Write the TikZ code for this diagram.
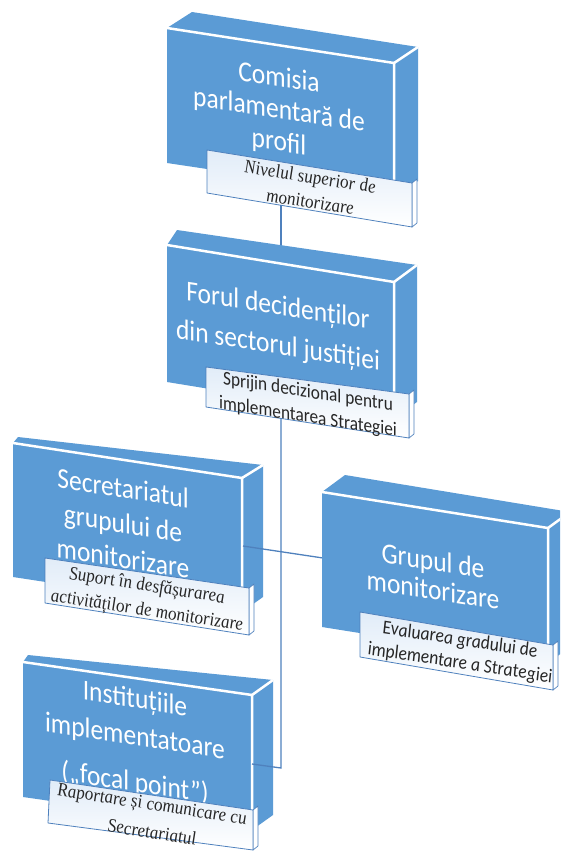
\documentclass[tikz,border=0pt]{standalone}
\usepackage{fontspec}
\setmainfont{Liberation Serif}
\newfontfamily\calfont{Carlito}
\usetikzlibrary{calc}
\definecolor{boxblue}{HTML}{5B9BD5}
\definecolor{lineblue}{HTML}{4F81BD}
\definecolor{captint}{HTML}{E1ECF8}
\newcommand{\slabbox}[7]{%
  \fill[boxblue] (#5) -- (#6) -- (#2) -- (#1) -- cycle;
  \fill[boxblue] (#2) -- (#6) -- (#7) -- (#3) -- cycle;
  \fill[boxblue] (#1) -- (#2) -- (#3) -- (#4) -- cycle;
  \draw[slabedge] (#1) -- (#2) -- (#3);
  \draw[slabedge] (#2) -- (#6);
}
\newcommand{\tagplate}[4]{%
  \filldraw[plateside] (#2) -- ++(5,-4) -- ($(#3)+(5,-4)$) -- (#3) -- cycle;
  \shadedraw[plateedge, top color=captint, bottom color=white] (#1) -- (#2) -- (#3) -- (#4) -- cycle;
}
\begin{document}
\begin{tikzpicture}[x=1pt,y=-1pt,
  slabedge/.style={draw=white, line width=2.5pt},
  plateside/.style={draw=lineblue, fill=white, line width=0.7pt, line join=round},
  plateedge/.style={draw=lineblue, line width=0.8pt, line join=round},
  conn/.style={draw=lineblue, line width=1.3pt},
  boxtext/.style={text=white, align=center, inner sep=0pt, yslant=-0.155, yscale=1.13},
  captext/.style={text=black!85, align=center, inner sep=0pt, yslant=-0.155, yscale=1.13},
  serifcap/.style={captext, font=\itshape\fontsize{17}{22}\selectfont},
]
\useasboundingbox (0,0) rectangle (560,852);
\clip (0,0) rectangle (560,852);

% Box 1
\slabbox{167,28}{394,63}{394,197}{167,163}{192,12}{418,47}{418,181}
\node[boxtext, font=\calfont\fontsize{25.5}{28.5}\selectfont] (t1) at (279,111) {Comisia\\parlamentară de\\profil};
\tagplate{207,150}{412,183}{412,227}{207,193}
\node[serifcap] (n1) at (310,189) {Nivelul superior de\\monitorizare};

% connector 1
\coordinate (c1a) at (281,205);
\coordinate (c1b) at (281,255);
\draw[conn] (c1a) -- (c1b);

% Box 2
\slabbox{167,245}{394,282}{394,419}{167,382}{177,230}{417,265}{417,402}
\node[boxtext, font=\calfont\fontsize{25.5}{35}\selectfont] (t2) at (278,327) {Forul decidenților\\din sectorul justiției};
\tagplate{206,367}{409,394}{409,438}{206,407}
\node[captext, font=\calfont\fontsize{17.3}{22}\selectfont] (n2) at (308,405) {Sprijin decizional pentru\\implementarea Strategiei};

% Box 3
\slabbox{13,443}{242,478}{242,612}{13,577}{18,437}{263,465}{263,597}
\node[boxtext, font=\calfont\fontsize{25.5}{31}\selectfont] (t3) at (123,523) {Secretariatul\\grupului de\\monitorizare};
\tagplate{45,558}{249,588}{249,635}{45,603}
\node[serifcap] (n3) at (147,599) {Suport în desfășurarea\\activităților de monitorizare};

% Box 5
\slabbox{23,662}{252,695}{252,830}{23,797}{28,655}{273,680}{273,815}
\node[boxtext, font=\calfont\fontsize{25.5}{33}\selectfont] (t5) at (135,742) {Instituțiile\\implementatoare\\[8pt](„focal point”)};
\tagplate{50,780}{253,810}{253,850}{48,823}
\node[serifcap, font=\itshape\fontsize{17}{25}\selectfont] (n5) at (152,818) {Raportare și comunicare cu\\Secretariatul};

% connectors 2 and 3
\coordinate (c2a) at (281,418);
\coordinate (c2b) at (281,768);
\coordinate (c2c) at (252,764);
\draw[conn] (c2a) -- (c2b) -- (c2c);
\coordinate (c3a) at (243,546);
\coordinate (c3b) at (323,558);
\draw[conn] (c3a) -- (c3b);

% Box 4
\slabbox{322,492}{548,528}{548,663}{322,627}{345,475}{570,512}{570,647}
\node[boxtext, font=\calfont\fontsize{25.5}{26}\selectfont] (t4) at (433,575) {Grupul de\\monitorizare};
\tagplate{360,612}{553,645}{553,690}{360,657}
\node[captext, font=\calfont\itshape\fontsize{17.5}{20.5}\selectfont] (n4) at (460,652) {Evaluarea gradului de\\implementare a Strategiei};
\end{tikzpicture}
\end{document}
